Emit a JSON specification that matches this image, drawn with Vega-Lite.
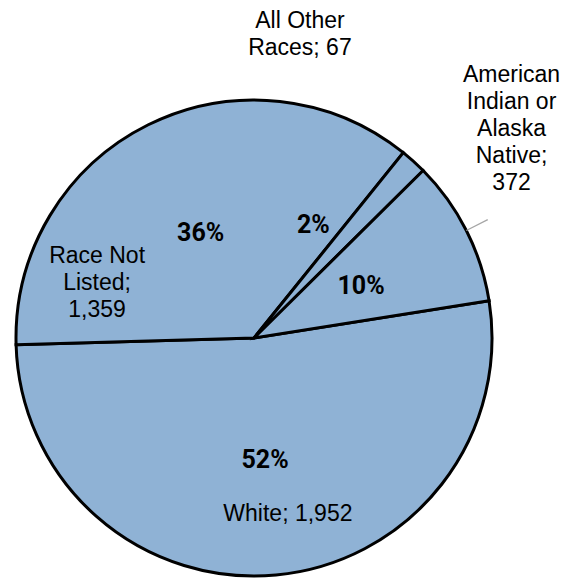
{
  "$schema": "https://vega.github.io/schema/vega-lite/v6.json",
  "autosize": "none",
  "width": 508,
  "height": 476,
  "padding": {"left": 0, "top": 100, "right": 66, "bottom": 5},
  "background": "white",
  "config": {"view": {"stroke": null}},
  "data": {
    "values": [
      {"race": "White", "count": 1952, "label": "White; 1,952"},
      {"race": "Race Not Listed", "count": 1359, "label": "Race Not\nListed;\n1,359"},
      {"race": "All Other Races", "count": 67, "label": "All Other\nRaces; 67"},
      {"race": "American Indian or Alaska Native", "count": 372, "label": "American\nIndian or\nAlaska\nNative;\n372"}
    ]
  },
  "transform": [
    {"window": [{"op": "row_number", "as": "idx"}]},
    {"joinaggregate": [{"op": "sum", "field": "count", "as": "total"}]},
    {"calculate": "datum.count / datum.total", "as": "share"}
  ],
  "encoding": {
    "theta": {"field": "count", "type": "quantitative", "stack": true, "scale": {"range": [1.4137, 7.6969]}},
    "order": {"field": "idx", "type": "quantitative", "sort": "ascending"}
  },
  "layer": [
    {
      "mark": {"type": "arc", "radius": 238, "fill": "#8FB2D5", "stroke": "#000000", "strokeWidth": 3}
    },
    {
      "mark": {"type": "arc", "radius": 262, "radius2": 238, "padAngle": 1.5, "fillOpacity": 0, "stroke": "#A6A6A6", "strokeWidth": 1.3},
      "encoding": {
        "strokeOpacity": {"condition": {"test": "datum.race === 'American Indian or Alaska Native'", "value": 1}, "value": 0}
      }
    },
    {
      "mark": {"type": "text", "radius": 120, "dy": 10.7, "align": "center", "baseline": "alphabetic", "font": "Roboto", "fontWeight": "bold", "fontSize": 25, "color": "#000000"},
      "encoding": {
        "text": {"condition": {"test": "datum.race !== 'All Other Races'", "field": "share", "type": "quantitative", "format": ".0%"}, "value": ""}
      }
    },
    {
      "mark": {"type": "text", "radius": 120, "dx": -21, "dy": -15.6, "align": "center", "baseline": "alphabetic", "font": "Roboto", "fontWeight": "bold", "fontSize": 25, "color": "#000000"},
      "encoding": {
        "text": {"condition": {"test": "datum.race === 'All Other Races'", "field": "share", "type": "quantitative", "format": ".0%"}, "value": ""}
      }
    },
    {
      "mark": {"type": "text", "radius": 183, "dx": 17, "dy": 0.5, "align": "center", "baseline": "alphabetic", "lineBreak": "\n", "lineHeight": 27, "font": "Liberation Sans", "fontSize": 23, "color": "#000000"},
      "encoding": {
        "text": {"condition": {"test": "datum.race === 'White'", "field": "label"}, "value": ""}
      }
    },
    {
      "mark": {"type": "text", "radius": 120, "dx": -103.6, "dy": 32.8, "align": "center", "baseline": "alphabetic", "lineBreak": "\n", "lineHeight": 27, "font": "Liberation Sans", "fontSize": 23, "color": "#000000"},
      "encoding": {
        "text": {"condition": {"test": "datum.race === 'Race Not Listed'", "field": "label"}, "value": ""}
      }
    },
    {
      "mark": {"type": "text", "radius": 260, "dx": -128.3, "dy": -117.1, "align": "center", "baseline": "alphabetic", "lineBreak": "\n", "lineHeight": 27, "font": "Liberation Sans", "fontSize": 23, "color": "#000000"},
      "encoding": {
        "text": {"condition": {"test": "datum.race === 'All Other Races'", "field": "label"}, "value": ""}
      }
    },
    {
      "mark": {"type": "text", "radius": 260, "dx": 25.6, "dy": -138.5, "align": "center", "baseline": "alphabetic", "lineBreak": "\n", "lineHeight": 27.1, "font": "Liberation Sans", "fontSize": 23, "color": "#000000"},
      "encoding": {
        "text": {"condition": {"test": "datum.race === 'American Indian or Alaska Native'", "field": "label"}, "value": ""}
      }
    }
  ]
}
